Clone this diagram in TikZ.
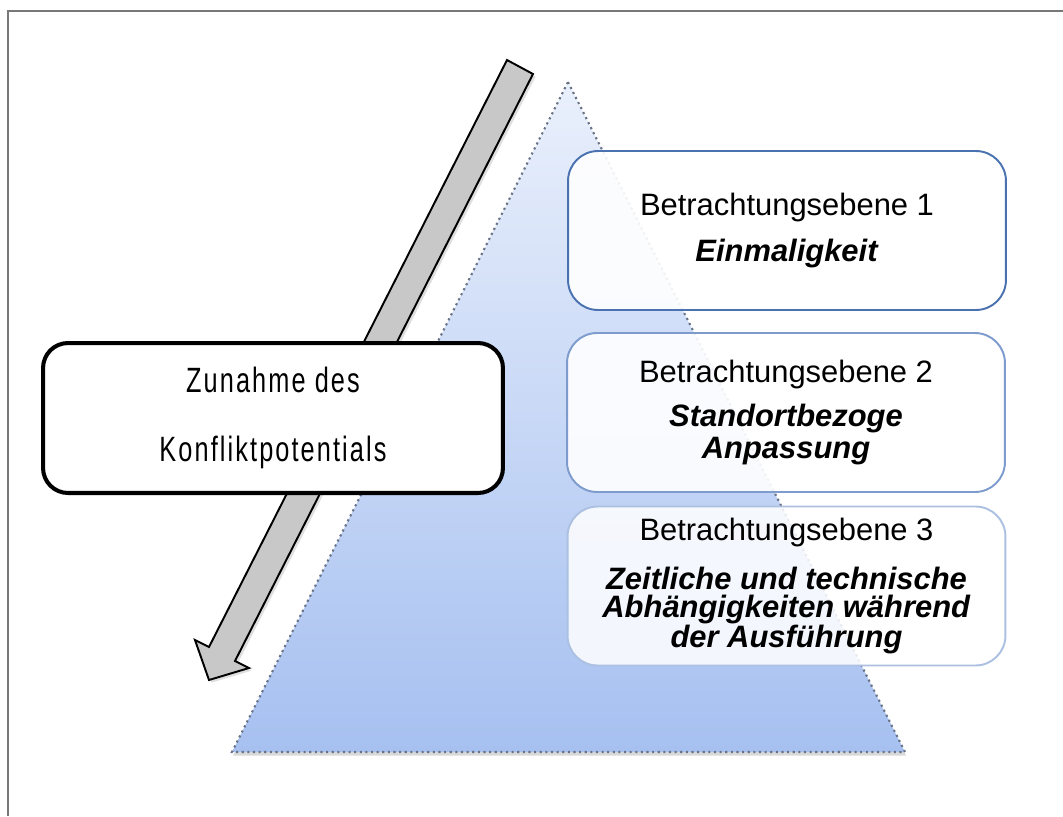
\documentclass[tikz,border=0pt]{standalone}
\usepackage{fontspec}
\setmainfont{Liberation Sans}
\newfontfamily\schmalfont{Liberation Sans}[FakeStretch=0.72,LetterSpace=6]
\usetikzlibrary{shadows}

\definecolor{rahmengrau}{RGB}{120,120,120}
\definecolor{kantengrau}{RGB}{105,115,135}
\definecolor{pyramideoben}{RGB}{234,240,252}
\definecolor{pyramideunten}{RGB}{166,192,240}
\definecolor{pfeilgrau}{RGB}{200,200,200}
\definecolor{ebeneblau1}{RGB}{74,114,176}
\definecolor{ebeneblau2}{RGB}{125,155,205}
\definecolor{ebeneblau3}{RGB}{172,192,226}

\tikzset{
  ebene/.style={draw, rounded corners=0.6cm, line width=1.1pt,
    minimum width=8.76cm, minimum height=3.18cm, inner sep=0pt,
    align=center, fill=white, fill opacity=0.9, text opacity=1},
  zunahmebox/.style={draw=black, rounded corners=0.5cm, line width=2.3pt,
    minimum width=9.2cm, minimum height=3cm, inner sep=0pt,
    align=center, fill=white,
    font=\schmalfont\fontsize{20}{39.7}\selectfont}
}

\begin{document}
\begin{tikzpicture}[x=0.02cm,y=-0.02cm]
                    \useasboundingbox (0,0) rectangle (1063,816);
                    \draw[rahmengrau,line width=1.1pt] (8,816) -- (8,11) -- (1063,11);

                    \coordinate (spitze) at (568,82);
                    \coordinate (basislinks) at (232,752);
                    \coordinate (basisrechts) at (905,752);
                    \path[top color=pyramideoben,bottom color=pyramideunten,
                          drop shadow={opacity=0.3,shadow xshift=0.6pt,shadow yshift=-2pt}]
                          (spitze) -- (basisrechts) -- (basislinks) -- cycle;
                    \draw[kantengrau,line width=1.2pt,dotted] (spitze) -- (basisrechts) -- (basislinks) -- cycle;

                    \coordinate (pfeil1) at (507,60);
                    \coordinate (pfeil2) at (533,74);
                    \coordinate (pfeil3) at (235,661);
                    \coordinate (pfeil4) at (249,668);
                    \coordinate (pfeilspitze) at (209,680);
                    \coordinate (pfeil6) at (195,640);
                    \coordinate (pfeil7) at (209,647);
                    \draw[black,line width=1.1pt,fill=pfeilgrau,
                          drop shadow={opacity=0.25,shadow xshift=1.5pt,shadow yshift=-1.5pt}]
                          (pfeil1) -- (pfeil2) -- (pfeil3) -- (pfeil4) -- (pfeilspitze)
                          -- (pfeil6) -- (pfeil7) -- cycle;

                    \node[zunahmebox] (zunahme) at (273,418) {Zunahme des\\Konfliktpotentials};

                    \node[ebene,draw=ebeneblau1,font=\fontsize{17.6}{18}\selectfont] (ebene1) at (787,230.5)
                          {Betrachtungsebene 1\\[8.6pt]\textbf{\textit{Einmaligkeit}}};
                    \node[ebene,draw=ebeneblau2,font=\fontsize{17.6}{18}\selectfont] (ebene2) at (786,412.5)
                          {Betrachtungsebene 2\\[7pt]\textbf{\textit{Standortbezoge}}\\\textbf{\textit{Anpassung}}};
                    \node[ebene,draw=ebeneblau3,fill opacity=0.85,font=\fontsize{17.6}{16}\selectfont] (ebene3) at (786.5,586)
                          {Betrachtungsebene 3\\[10.6pt]\textbf{\textit{Zeitliche und technische}}\\
                           \textbf{\textit{Abhängigkeiten während}}\\\textbf{\textit{der Ausführung}}};
                \end{tikzpicture}
\end{document}
